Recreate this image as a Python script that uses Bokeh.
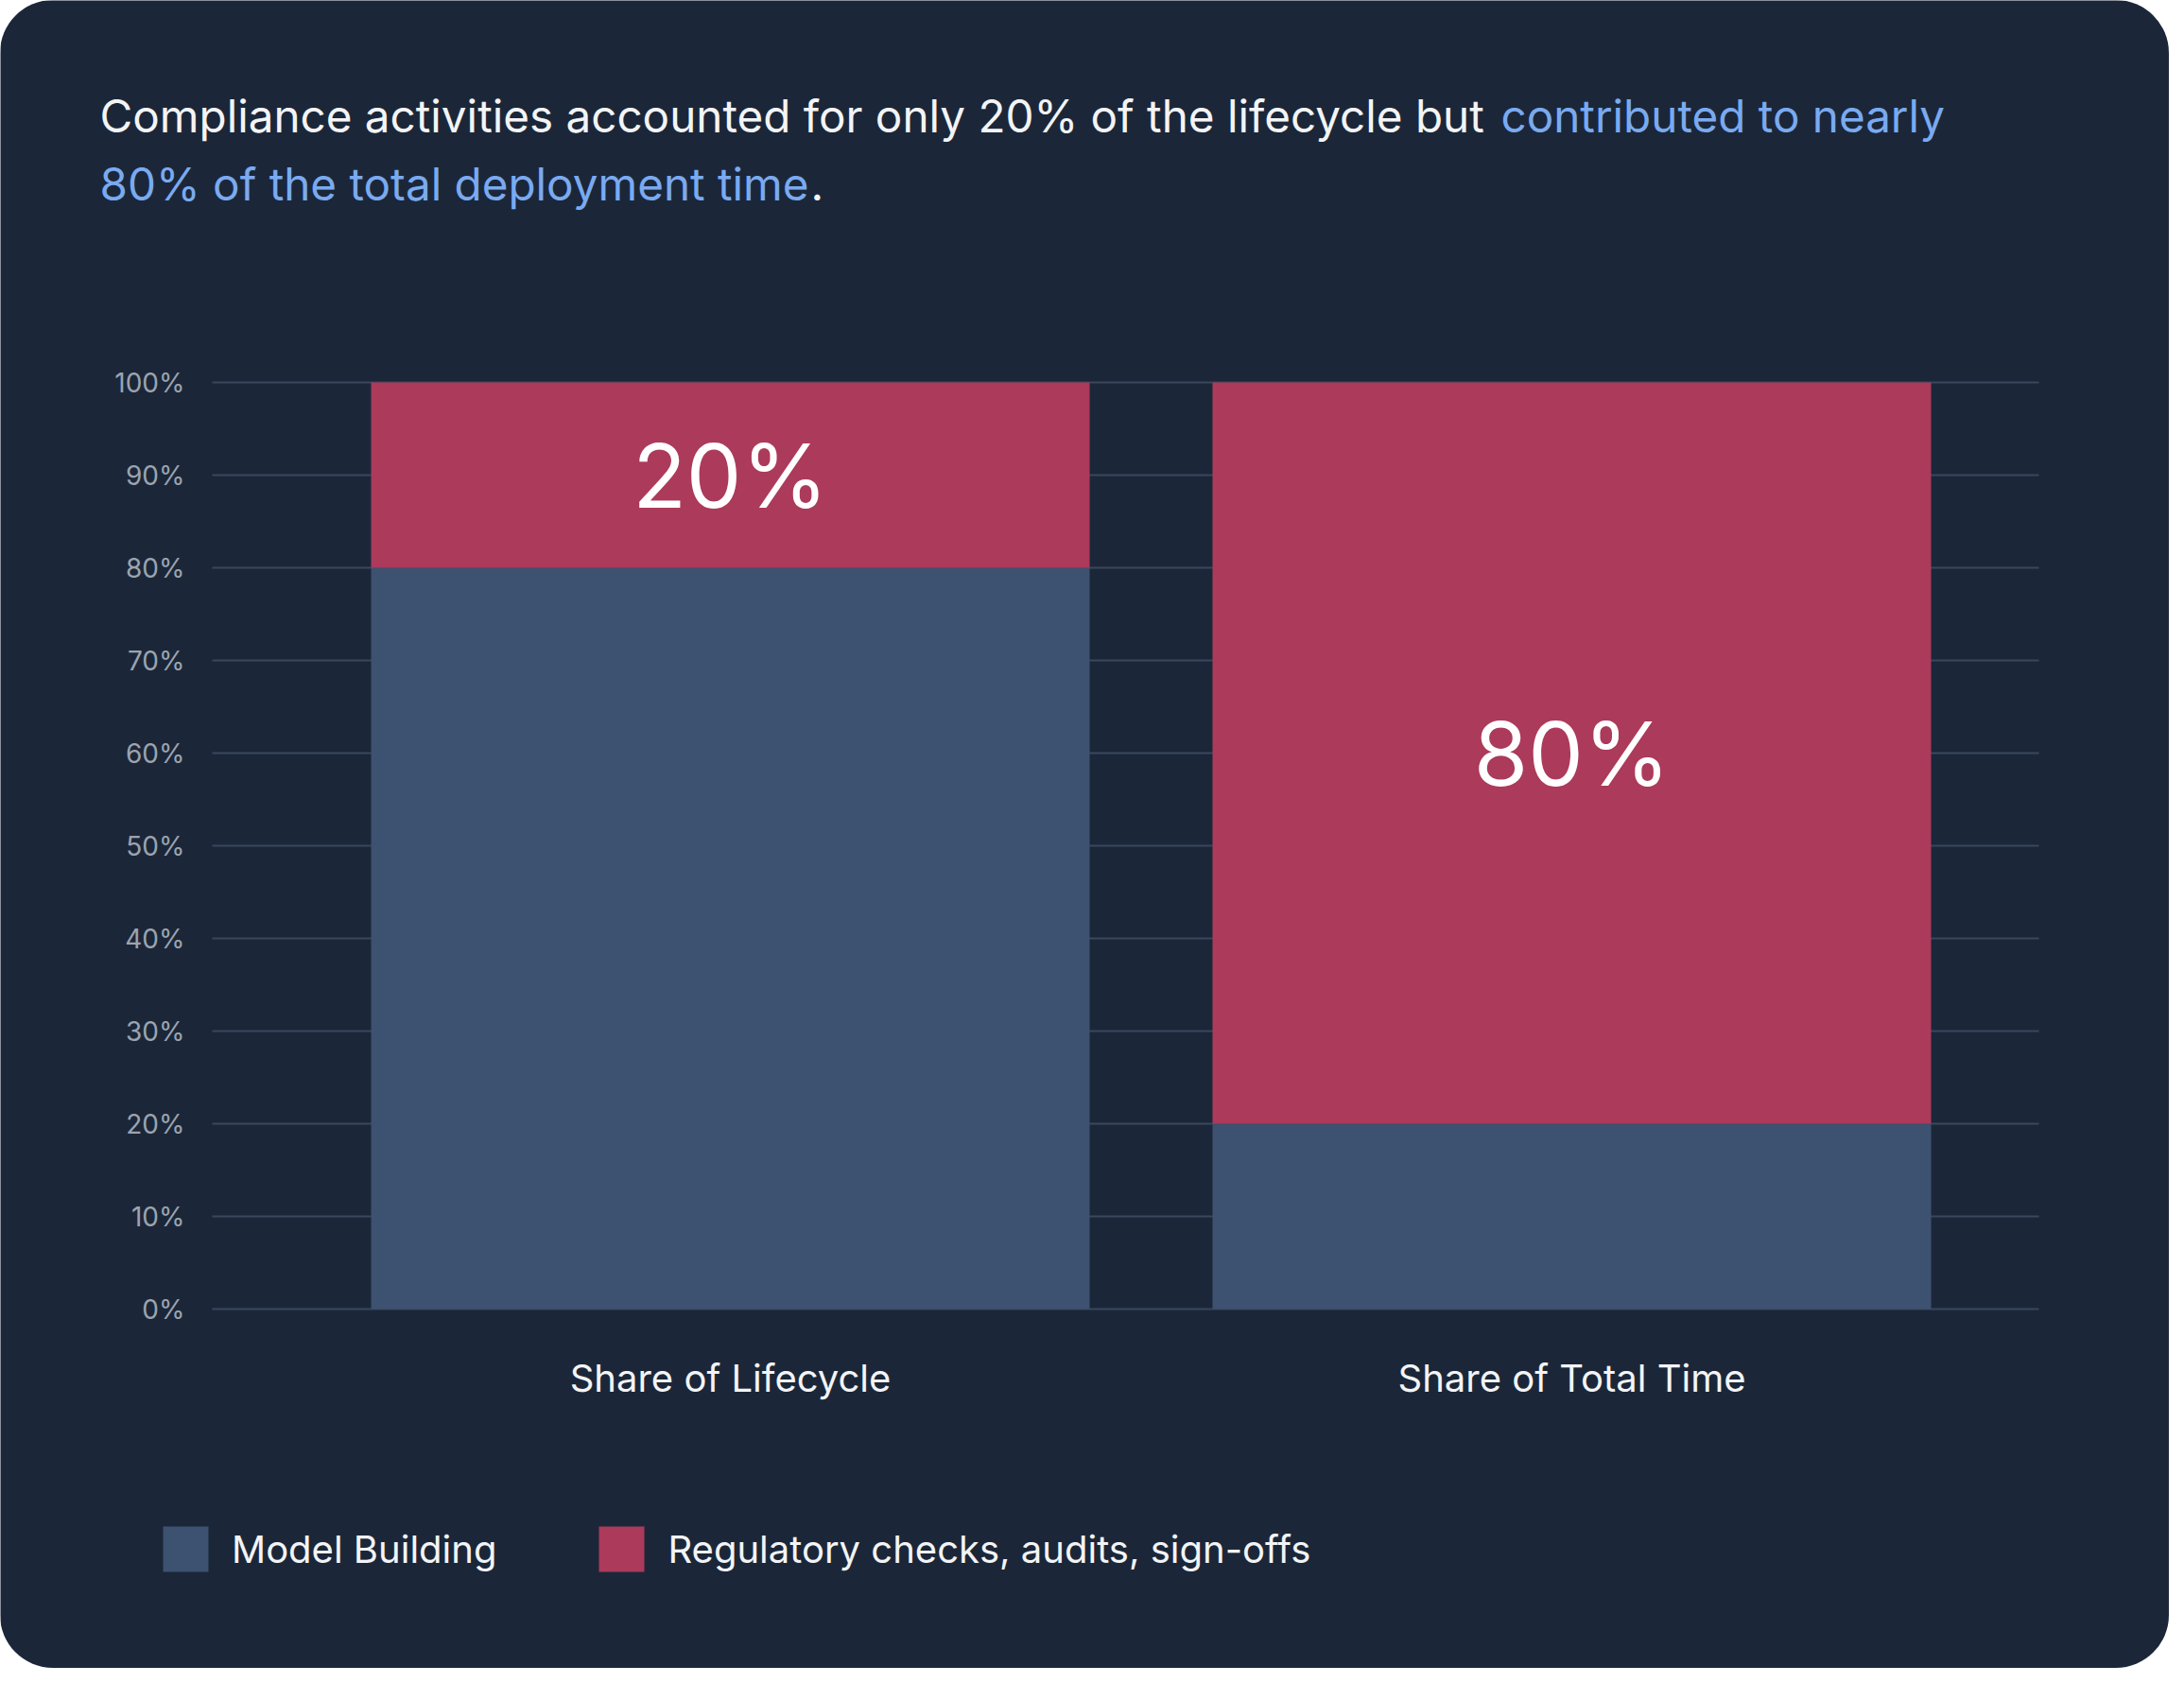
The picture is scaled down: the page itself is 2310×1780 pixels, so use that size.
from bokeh.plotting import figure
from bokeh.models import ColumnDataSource, Range1d, FixedTicker, Label, Legend, LegendItem
from bokeh.core.properties import value
from bokeh.embed import file_html
from bokeh.resources import INLINE

# ---- data ----
categories = ["Share of Lifecycle", "Share of Total Time"]
model_building = [80, 20]
regulatory = [20, 80]
segment_labels = ["20%", "80%"]
series_names = ["Model Building", "Regulatory checks, audits, sign-offs"]
y_ticks = [0, 10, 20, 30, 40, 50, 60, 70, 80, 90, 100]

title_white_1 = "Compliance activities accounted for only 20% of the lifecycle but"
title_blue_1 = "contributed to nearly"
title_blue_2 = "80% of the total deployment time"
title_white_2 = "."

# ---- style ----
BG = "#1b2739"
BLUE = "#3d5170"
RED = "#ac3a5b"
GRID = "#3a475c"
TICK = "#9ca3af"
TEXT = "#f3f4f6"
HL = "#7aaaf0"
FONT = "Inter"

W, H = 2294, 1764

# pixel <-> data helpers (chart area: x 224..2156, y 404..1384 px)
def px_x(X):
    return (X - 772) / 890.0

def px_y(Y):
    return (1384 - Y) / 9.8

xs = list(range(len(categories)))
src = ColumnDataSource(dict(
    x=xs,
    model=model_building,
    reg=regulatory,
    lab_y=[m + r / 2 for m, r in zip(model_building, regulatory)],
    lab=segment_labels,
))

p = figure(width=W, height=H,
           x_range=Range1d(px_x(0), px_x(W)), y_range=Range1d(px_y(H), px_y(0)),
           output_backend="svg", toolbar_location=None,
           min_border=0)
p.title.visible = False
p.background_fill_color = BG
p.border_fill_color = BG
p.outline_line_color = None
p.styles = {"border-radius": "56px", "overflow": "hidden"}

rs = p.vbar_stack(["model", "reg"], x="x", width=0.854, color=[BLUE, RED],
                  line_color=None, source=src)

p.text(x="x", y="lab_y", text="lab", source=src,
       text_font=value(FONT), text_font_size=value("93px"),
       text_color="white", text_align="center", text_baseline="middle")

# axes (drawn at fixed locations inside the card)
p.yaxis.fixed_location = px_x(224)
p.yaxis.ticker = FixedTicker(ticks=y_ticks)
p.yaxis.major_label_overrides = {t: f"{t}%" for t in y_ticks}
p.yaxis.axis_line_color = None
p.yaxis.major_tick_line_color = None
p.yaxis.minor_tick_line_color = None
p.yaxis.major_tick_out = 0
p.yaxis.major_tick_in = 0
p.yaxis.major_label_standoff = 29
p.yaxis.major_label_text_font = FONT
p.yaxis.major_label_text_font_size = "28px"
p.yaxis.major_label_text_color = TICK

p.xaxis.fixed_location = 0
p.xaxis.ticker = FixedTicker(ticks=xs)
p.xaxis.major_label_overrides = {i: c for i, c in zip(xs, categories)}
p.xaxis.axis_line_color = None
p.xaxis.major_tick_line_color = None
p.xaxis.minor_tick_line_color = None
p.xaxis.major_tick_out = 0
p.xaxis.major_tick_in = 0
p.xaxis.major_label_standoff = 48
p.xaxis.major_label_text_font = FONT
p.xaxis.major_label_text_font_size = "40px"
p.xaxis.major_label_text_color = TEXT

p.xgrid.visible = False
p.ygrid.ticker = FixedTicker(ticks=y_ticks)
p.ygrid.grid_line_color = GRID
p.ygrid.grid_line_width = 2
try:
    p.ygrid.cross_bounds = (px_x(224), px_x(2156))
except Exception:
    p.ygrid.visible = False
    p.segment(x0=[px_x(224)] * len(y_ticks), x1=[px_x(2156)] * len(y_ticks),
              y0=y_ticks, y1=y_ticks, line_color=GRID, line_width=2,
              level="underlay")

# title (two lines, two colours)
for txt, xx, yy, col in [
    (title_white_1, 105, 122, TEXT),
    (title_blue_1, 1587, 122, HL),
    (title_blue_2, 105, 194, HL),
    (title_white_2, 857, 194, TEXT),
]:
    p.add_layout(Label(x=px_x(xx), y=px_y(yy), text=txt, text_font=FONT,
                       text_font_size="47.6px", text_color=col,
                       text_align="left", text_baseline="alphabetic"))

legend = Legend(
    items=[LegendItem(label=series_names[0], renderers=[rs[0]]),
           LegendItem(label=series_names[1], renderers=[rs[1]])],
    orientation="horizontal", location=(166, H - 1668),
    glyph_width=60, glyph_height=60, label_standoff=19, spacing=102,
    padding=0, margin=0, border_line_color=None, background_fill_alpha=0,
    label_text_font=FONT, label_text_font_size="40px", label_text_color=TEXT,
    label_height=60,
)
p.add_layout(legend)

open("out.html", "w").write(file_html(p, INLINE))
